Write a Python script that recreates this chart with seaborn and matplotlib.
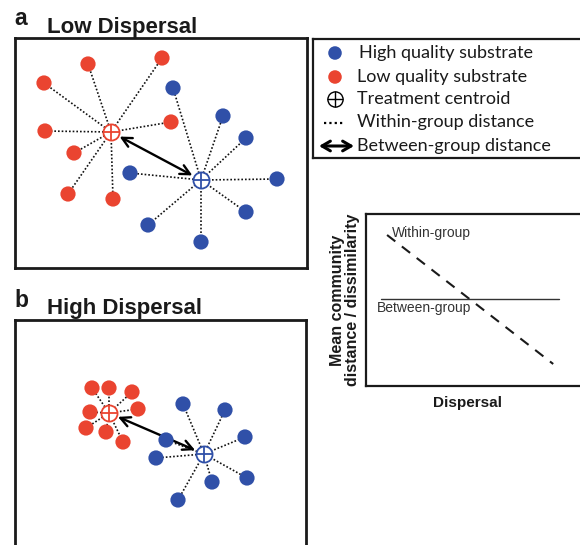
import numpy as np
import pandas as pd
import seaborn as sns
import matplotlib.pyplot as plt

sns.set_style('white')
plt.rcParams['font.family'] = ['Liberation Sans', 'DejaVu Sans']

W, H = 580, 545
RED = '#EA4430'
BLUE = '#3050A8'

# ordination positions (pixel units of the page)
# panel a - low dispersal
a_low_x = [88, 162, 44, 171, 45, 74, 68, 113]
a_low_y = [64, 58, 83, 122, 131, 153, 194, 199]
a_high_x = [173, 223, 246, 130, 277, 246, 148, 201]
a_high_y = [88, 116, 138, 173, 179, 212, 225, 242]
a_cent = {'Low': (111, 132), 'High': (201, 180)}

# panel b - high dispersal
b_low_x = [92, 109, 132, 90, 138, 86, 106, 123]
b_low_y = [388, 388, 392, 412, 409, 428, 432, 442]
b_high_x = [183, 225, 245, 166, 156, 247, 212, 178]
b_high_y = [404, 410, 437, 440, 458, 478, 482, 500]
b_cent = {'Low': (109, 413), 'High': (204, 454)}

# conceptual trend panel
within_x = [0.09, 0.80]
within_y = [0.878, 0.128]
between_x = [0.064, 0.825]
between_y = [0.506, 0.506]


def box(l, t, r, b):
    return [l / W, 1 - b / H, (r - l) / W, (b - t) / H]


def fx(x):
    return x / W


def fy(y):
    return 1 - y / H


def ordination(ax, low_x, low_y, high_x, high_y, cent, lims):
    df = pd.DataFrame({
        'x': low_x + high_x,
        'y': low_y + high_y,
        'substrate': ['Low'] * len(low_x) + ['High'] * len(high_x),
    })
    for _, r in df.iterrows():
        cx, cy = cent[r['substrate']]
        ax.plot([cx, r['x']], [cy, r['y']], color='#111111', lw=1.2,
                ls=(0, (1, 1.2)), zorder=1)
    sns.scatterplot(data=df, x='x', y='y', hue='substrate',
                    palette={'Low': RED, 'High': BLUE}, s=120,
                    edgecolor='none', legend=False, ax=ax, zorder=3)
    for k, col in [('Low', RED), ('High', BLUE)]:
        cx, cy = cent[k]
        ax.scatter([cx], [cy], s=135, facecolor='white', edgecolor=col,
                   lw=1.3, zorder=4)
        ax.scatter([cx], [cy], s=135, marker='+', color=col, lw=1.3, zorder=5)
    lc, hc = cent['Low'], cent['High']
    ax.annotate('', xy=hc, xytext=lc, zorder=2,
                arrowprops=dict(arrowstyle='<->,head_length=0.7,head_width=0.35',
                                lw=1.7, color='black', shrinkA=7, shrinkB=7))
    ax.set_xlim(lims[0], lims[1])
    ax.set_ylim(lims[3], lims[2])
    ax.set_xticks([])
    ax.set_yticks([])
    ax.set_xlabel('')
    ax.set_ylabel('')
    for s in ax.spines.values():
        s.set_linewidth(2.0)
        s.set_color('#1a1a1a')


fig = plt.figure(figsize=(W / 100, H / 100), dpi=100)

ax_a = fig.add_axes(box(15, 38, 307, 268))
ordination(ax_a, a_low_x, a_low_y, a_high_x, a_high_y, a_cent, (15, 307, 38, 268))
ax_b = fig.add_axes(box(15, 320, 306, 560))
ordination(ax_b, b_low_x, b_low_y, b_high_x, b_high_y, b_cent, (15, 306, 320, 560))

fig.text(fx(14), fy(25), 'a', fontsize=16.5, fontweight='bold', va='baseline', color='#1a1a1a')
fig.text(fx(47), fy(33), 'Low Dispersal', fontsize=16, fontweight='bold', va='baseline', color='#1a1a1a')
fig.text(fx(14), fy(307), 'b', fontsize=16.5, fontweight='bold', va='baseline', color='#1a1a1a')
fig.text(fx(47), fy(314), 'High Dispersal', fontsize=16, fontweight='bold', va='baseline', color='#1a1a1a')

# legend box
ax_l = fig.add_axes(box(313, 39, 600, 158))
ax_l.set_xlim(313, 600)
ax_l.set_ylim(158, 39)
ax_l.set_xticks([])
ax_l.set_yticks([])
for s in ax_l.spines.values():
    s.set_linewidth(1.6)
    s.set_color('#1a1a1a')
ax_l.scatter([335], [53], s=95, color=BLUE, edgecolor='none')
ax_l.scatter([335], [77], s=95, color=RED, edgecolor='none')
ax_l.scatter([335], [99], s=120, facecolor='white', edgecolor='black', lw=1.0)
ax_l.scatter([335], [99], s=120, marker='+', color='black', lw=1.0)
ax_l.plot([324, 345], [123, 123], color='black', lw=1.6, ls=(0, (1, 1.4)))
ax_l.annotate('', xy=(354, 146), xytext=(319, 146),
              arrowprops=dict(arrowstyle='<->,head_length=0.6,head_width=0.35',
                              lw=2.2, color='black', shrinkA=0, shrinkB=0))
legend_labels = ['High quality substrate', 'Low quality substrate',
                 'Treatment centroid', 'Within-group distance',
                 'Between-group distance']
for lab, yy, xx in zip(legend_labels, [53, 77, 99, 122, 146], [359, 357, 357, 357, 357]):
    ax_l.text(xx, yy, lab, fontsize=13, family=['Lato', 'DejaVu Sans'],
              va='center', ha='left', color='#1a1a1a')

# trend panel
ax_c = fig.add_axes(box(366, 214, 600, 386))
sns.lineplot(x=within_x, y=within_y, ax=ax_c, color='#1a1a1a', lw=1.5,
             linestyle=(0, (5, 4)))
sns.lineplot(x=between_x, y=between_y, ax=ax_c, color='#333333', lw=1.0)
ax_c.set_xlim(0, 1)
ax_c.set_ylim(0, 1)
ax_c.set_xticks([])
ax_c.set_yticks([])
for s in ax_c.spines.values():
    s.set_linewidth(1.6)
    s.set_color('#1a1a1a')
ax_c.text(0.111, 0.89, 'Within-group', fontsize=10, va='center', ha='left', color='#333333')
ax_c.text(0.047, 0.453, 'Between-group', fontsize=10, va='center', ha='left', color='#333333')
fig.text(fx(345), fy(300), 'Mean community\ndistance / dissimilarity', rotation=90,
         fontsize=11.5, fontweight='bold', ha='center', va='center',
         linespacing=1.05, color='#1a1a1a')
fig.text(fx(467), fy(403), 'Dispersal', fontsize=11, fontweight='bold',
         ha='center', va='center', color='#1a1a1a')

fig.savefig('out.png', dpi=100)
